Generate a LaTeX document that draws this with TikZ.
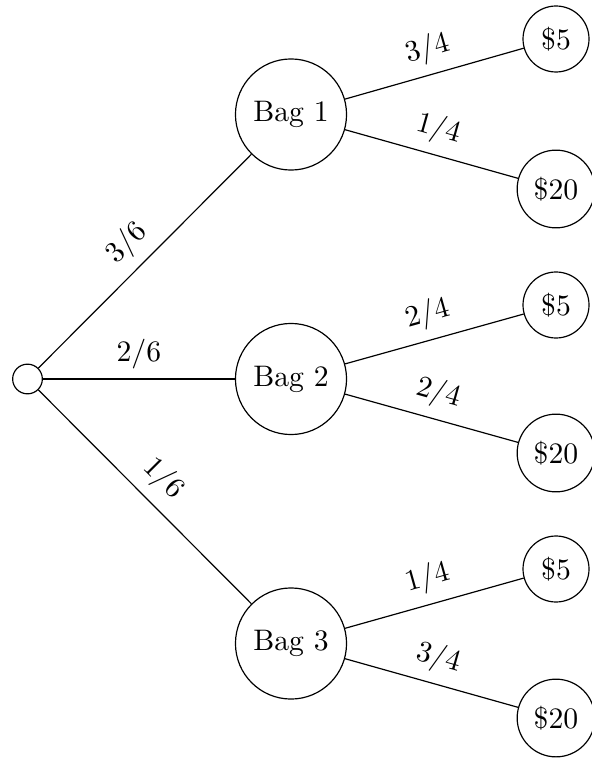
\documentclass[tikz,border=0pt]{standalone}
\usepackage{amsmath}
\usetikzlibrary{positioning}

\begin{document}
\begin{tikzpicture}[x=0.3367pt,y=-0.3367pt,
        bag/.style={circle,draw,minimum size=37.4pt},
        prize/.style={circle,draw},
        start/.style={circle,draw,minimum size=10pt},
        prob/.style={sloped,above}]

    \useasboundingbox (0,0) rectangle (592,761);

    \node[start] (0) at (27.5,379) {};
    \node[bag] (1) at (291,114.5) {Bag 1};
    \node[bag] (2) at (291,379) {Bag 2};
    \node[bag] (3) at (291,643.5) {Bag 3};

    \node[prize] (1a) at (556,39) {\$5};
    \node[prize] (1b) at (556,189) {\$20};
    \node[prize] (2a) at (556,305) {\$5};
    \node[prize] (2b) at (556,453) {\$20};
    \node[prize] (3a) at (556,569) {\$5};
    \node[prize] (3b) at (556,718) {\$20};

    \path (0) edge node[prob] {$3/6$} (1)
        (0) edge node[prob] {$2/6$} (2)
        (0) edge node[prob] {$1/6$} (3)
        (1) edge node[prob] {$3/4$} (1a)
        (1) edge node[prob] {$1/4$} (1b)
        (2) edge node[prob] {$2/4$} (2a)
        (2) edge node[prob] {$2/4$} (2b)
        (3) edge node[prob] {$1/4$} (3a)
        (3) edge node[prob] {$3/4$} (3b);

\end{tikzpicture}
\end{document}
